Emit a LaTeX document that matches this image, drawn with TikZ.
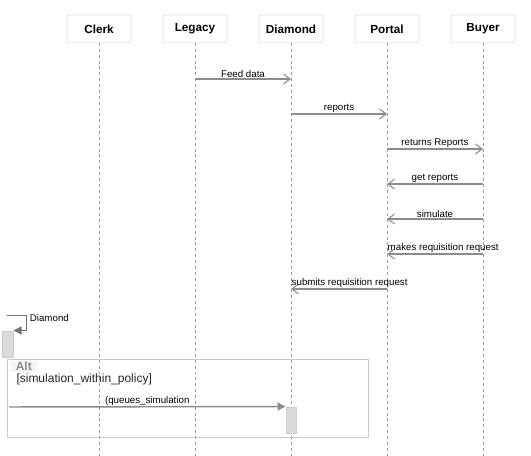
\documentclass[tikz,border=0pt]{standalone}
\usepackage{fontspec}
\setmainfont{Liberation Sans}
\usetikzlibrary{arrows.meta,positioning}

\definecolor{headedge}{HTML}{E8E8E8}
\definecolor{lifegray}{HTML}{9A9A9A}
\definecolor{msggray}{HTML}{8C8C8C}
\definecolor{selfgray}{HTML}{707070}
\definecolor{framegray}{HTML}{CACACA}
\definecolor{actfill}{HTML}{DADADA}
\definecolor{actedge}{HTML}{CCCCCC}
\definecolor{altfill}{HTML}{F4F4F4}

\tikzset{every picture/.style={line width=0.75pt}}
\tikzset{
	head/.style={draw=headedge, fill=white, rounded corners=1.5pt, minimum width=48pt, minimum height=21pt, inner sep=0pt, outer sep=0pt, font=\bfseries\fontsize{8.8}{10}\selectfont},
	lifeline/.style={draw=lifegray, line width=0.6pt, dash pattern=on 2.2pt off 2.2pt},
	msg/.style={draw=msggray, line width=1.1pt, -{Straight Barb[length=5pt,width=7.5pt,line width=0.8pt]}},
	msgfill/.style={draw=msggray, line width=1.1pt, -{Triangle[length=6pt,width=6pt]}},
	selfmsg/.style={draw=selfgray, line width=0.7pt, -{Triangle[length=6pt,width=6pt]}},
	msglabel/.style={font=\fontsize{7.3}{8}\selectfont, inner sep=0.3pt},
	activation/.style={draw=actedge, fill=actfill, minimum width=#1, minimum height=19.5pt, inner sep=0pt},
	framebox/.style={draw=framegray, line width=0.7pt},
}

\begin{document}
\begin{tikzpicture}[x=0.75pt,y=0.75pt,yscale=-1,xscale=1]
	\useasboundingbox (0,0) rectangle (531,456);

	% participants
	\node[head] (clerk) at (99,29) {Clerk};
	\node[head, right=24pt of clerk] (legacy) {Legacy};
	\node[head, right=24pt of legacy] (diamond) {Diamond};
	\node[head, right=24pt of diamond] (portal) {Portal};
	\node[head, right=24pt of portal] (buyer) {Buyer};

	% lifelines
	\coordinate (bottom) at (0,456);
	\foreach \p in {clerk,legacy,diamond,portal,buyer}
		\draw[lifeline] (\p.south) -- (\p.south |- bottom);

	% messages
	\foreach \y/\src/\dst/\txt in {79/legacy/diamond/Feed data, 114/diamond/portal/reports, 149/portal/buyer/returns Reports, 184/buyer/portal/get reports, 219/buyer/portal/simulate}{
		\coordinate (m\y) at (0,\y);
		\draw[msg] (\src |- m\y) -- node[msglabel, above] {\txt} (\dst |- m\y);
	}

	% long labels start at the left end
	\coordinate (m254) at (0,254);
	\draw[msg] (buyer |- m254) -- (portal |- m254) node[msglabel, anchor=south west, inner sep=0pt, yshift=0.8pt] {makes requisition request};
	\coordinate (m289) at (0,289);
	\draw[msg] (portal |- m289) -- (diamond |- m289) node[msglabel, anchor=south west, inner sep=0pt, yshift=0.8pt] {submits requisition request};

	% self message
	\node[activation=8.25pt] (act1) at (7.5,344) {};
	\coordinate (self0) at (7,315);
	\draw[selfmsg] (self0) -- ++(19,0) |- (act1.north east);
	\node[msglabel, anchor=west] (selflbl) at (29,318) {Diamond};

	% alt fragment
	\draw[framebox] (7,359) rectangle (368,437);
	\node[fill=altfill, text=msggray, font=\bfseries\fontsize{9}{10}\selectfont, anchor=north west, inner xsep=4pt, inner ysep=1pt] (altlbl) at (10,360) {Alt};
	\node[font=\fontsize{9}{10}\selectfont, anchor=north west, inner sep=0pt, text=black!85] (guard) at (16,373.5) {[simulation\_within\_policy]};

	\node[activation=7.5pt] (act2) at (291,420) {};
	\coordinate (q0) at (9,407);
	\draw[msgfill] (q0) -- node[msglabel, above] {(queues\_simulation} (act2.north west);

\end{tikzpicture}
\end{document}
